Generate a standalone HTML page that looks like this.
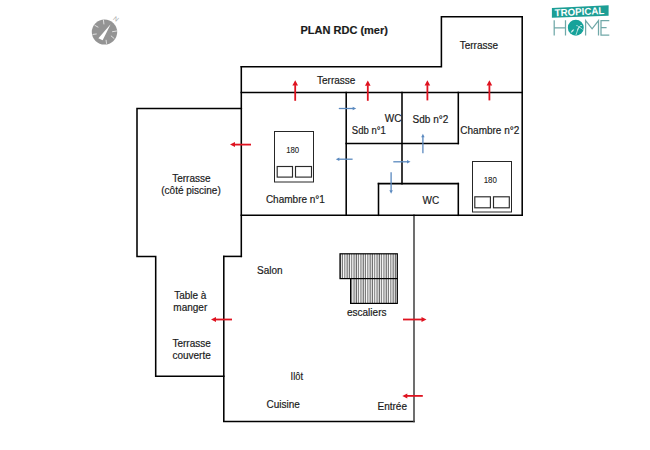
<!DOCTYPE html>
<html><head><meta charset="utf-8">
<style>
html,body{margin:0;padding:0;background:#fff;width:650px;height:450px;overflow:hidden}
svg{display:block}
text{font-family:"Liberation Sans",sans-serif;font-size:10px;fill:#1a1a1a;stroke:#1a1a1a;stroke-width:0.18px}
</style></head><body>
<svg width="650" height="450" viewBox="0 0 650 450">
<defs>
<pattern id="st" x="340" y="0" width="2.3" height="10" patternUnits="userSpaceOnUse">
<rect x="0" y="0" width="2.3" height="10" fill="#bdbdbd"/>
<rect x="0" y="0" width="0.7" height="10" fill="#505050"/>
<rect x="0.7" y="0" width="0.8" height="10" fill="#fff"/>
</pattern>
</defs>
<!-- walls -->
<g fill="none" stroke="#000" stroke-width="1.55" stroke-linecap="square">
<path d="M241.3 66.8 H441.4 V16.8 H522.2 V215.3"/>
<path d="M241.3 66.8 V256.4"/>
<path d="M241.3 92.5 H522.2"/>
<path d="M241.3 108.5 H137 V256.4 H155.7 V376.3 H223.8 V421.4 H414"/>
<path d="M414 421.4 V215.3" stroke="#454545"/>
<path d="M223.8 256.4 H241.3"/>
<path d="M223.8 256.4 V376.3"/>
<path d="M241.3 215.3 H522.2"/>
<path d="M346.2 92.5 V215.3"/>
<path d="M346.2 143.5 H458.3"/>
<path d="M402 92.5 V183.6"/>
<path d="M458.3 92.5 V143.5"/>
<path d="M458.3 183.6 V215.3"/>
<path d="M378.5 183.6 H458.3"/>
<path d="M378.5 183.6 V215.3"/>
</g>
<!-- beds -->
<g fill="none" stroke="#262626" stroke-width="1">
<rect x="274.5" y="131.5" width="39" height="50.5"/>
<rect x="472.5" y="161.5" width="39" height="50.5"/>
</g>
<g fill="none" stroke="#2a2a2a" stroke-width="1.15">
<rect x="277.2" y="166.5" width="15.3" height="10.6"/>
<rect x="295.5" y="166.5" width="16" height="10.6"/>
<rect x="474.8" y="196.8" width="15.6" height="11"/>
<rect x="493.5" y="196.8" width="15.8" height="11"/>
</g>
<!-- stairs -->
<rect x="340" y="253.8" width="57.3" height="24.8" fill="url(#st)" stroke="#000" stroke-width="1.2"/>
<rect x="350.6" y="278.6" width="46.7" height="24.8" fill="url(#st)" stroke="#000" stroke-width="1.2"/>
<!-- red arrows -->
<g stroke="#df1320" stroke-width="1.8" fill="#df1320">
<line x1="295.2" y1="100.8" x2="295.2" y2="85.1"/><path d="M295.2 80.3 L292.40 85.6 L298.00 85.6Z" stroke="none"/>
<line x1="367.8" y1="100.8" x2="367.8" y2="85.3"/><path d="M367.8 80.5 L365.00 85.8 L370.60 85.8Z" stroke="none"/>
<line x1="427.4" y1="100.4" x2="427.4" y2="85.1"/><path d="M427.4 80.3 L424.60 85.6 L430.20 85.6Z" stroke="none"/>
<line x1="489.4" y1="100.4" x2="489.4" y2="85.1"/><path d="M489.4 80.3 L486.60 85.6 L492.20 85.6Z" stroke="none"/>
<line x1="251" y1="144.6" x2="234.5" y2="144.6"/><path d="M230 144.6 L235 142.10 L235 147.10Z" stroke="none"/>
<line x1="232" y1="319.5" x2="215.5" y2="319.5"/><path d="M211 319.5 L216 317.00 L216 322.00Z" stroke="none"/>
<line x1="403" y1="319.5" x2="422.0" y2="319.5"/><path d="M426.5 319.5 L421.5 317.00 L421.5 322.00Z" stroke="none"/>
<line x1="422.8" y1="395.9" x2="406.8" y2="395.9"/><path d="M402.3 395.9 L407.3 393.40 L407.3 398.40Z" stroke="none"/>
</g>
<!-- blue arrows -->
<g stroke="#5a89bf" stroke-width="1.3" fill="#5a89bf">
<line x1="338.8" y1="108.5" x2="353.2" y2="108.5"/><path d="M356.2 108.5 L352.7 106.80 L352.7 110.20Z" stroke="none"/>
<line x1="352.6" y1="159.2" x2="338.8" y2="159.2"/><path d="M335.8 159.2 L339.3 157.50 L339.3 160.90Z" stroke="none"/>
<line x1="393.3" y1="161.8" x2="407.5" y2="161.8"/><path d="M410.5 161.8 L407.0 160.10 L407.0 163.50Z" stroke="none"/>
<line x1="391.1" y1="172.2" x2="391.1" y2="190.7"/><path d="M391.1 193.7 L389.40 190.2 L392.80 190.2Z" stroke="none"/>
<line x1="422.9" y1="153.3" x2="422.9" y2="136.7"/><path d="M422.9 133.7 L421.20 137.2 L424.60 137.2Z" stroke="none"/>
</g>
<!-- compass -->
<g>
<ellipse cx="104.5" cy="32.1" rx="12.7" ry="12.5" fill="#949494"/>
<g stroke="#f4f4f4" stroke-width="1" stroke-linecap="round" opacity="0.8">
<line x1="103.5" y1="20.3" x2="103.9" y2="24"/>
<line x1="94.9" y1="25.4" x2="98" y2="27.1"/>
<line x1="93" y1="34.4" x2="96.3" y2="34"/>
<line x1="112.5" y1="31.7" x2="116.6" y2="31"/>
<line x1="111.2" y1="36" x2="114" y2="38.4"/>
<line x1="106.1" y1="40.2" x2="106.5" y2="43.4"/>
</g>
<path d="M98.4 38.2 L102.6 40.3 L110.6 24.2 Z" fill="#fff"/>
<text x="0" y="0" transform="translate(112.6,19.6) rotate(30) skewX(-10)" style="font-size:6.5px;fill:#a8a8a8;stroke:none">N</text>
</g>
<!-- logo -->
<g>
<path d="M551.9 7.9 L608.6 5.3 L608.6 15.7 L551.9 17.8 Z" fill="#1d9e95"/>
<text x="0" y="0" transform="translate(554.8,16.2) rotate(-2.5)" textLength="49.6" lengthAdjust="spacingAndGlyphs" style="font-weight:bold;font-size:10px;fill:#fff;stroke:none">TROPICAL</text>
<g stroke="#70a8a8" stroke-width="1.25" fill="none">
<path d="M554.2 20.2 V35.5 M565.5 20.2 V35.5 M554.2 27.9 H565.5"/>
<path d="M585.6 35.5 V20.6 L592.1 28.8 L598.5 20.6 V35.5"/>
<path d="M609.3 20.6 H601 V35.2 H609.3 M601 27.7 H606.6"/>
</g>
<circle cx="575.8" cy="27.7" r="7.95" fill="#16a29a"/>
<g stroke="#fff" stroke-width="0.75" fill="none" opacity="0.85">
<path d="M575.8 35.3 Q577.2 31 579 27.2"/>
<path d="M579 27.2 Q577.5 25 576.3 25.6 M579 27.2 Q580.5 24.6 582 25.5 M579 27.2 Q581.5 27.8 582.5 29.4 M579 27.2 Q577.6 28.6 577.3 30.4"/>
<path d="M571 32.5 Q572 29.5 573.8 29.6 Q573.6 31.8 571 32.5Z" fill="#fff" stroke-width="0.4"/>
</g>
</g>
<!-- texts -->
<text x="300.5" y="33.9" style="font-weight:bold;font-size:11px">PLAN RDC (mer)</text>
<text x="459.7" y="49.2">Terrasse</text>
<text x="317" y="83.5">Terrasse</text>
<text x="351.8" y="134.1" textLength="34" lengthAdjust="spacingAndGlyphs">Sdb n°1</text>
<text x="384.8" y="122.2">WC</text>
<text x="412.6" y="123.1">Sdb n°2</text>
<text x="460.3" y="133.9">Chambre n°2</text>
<text x="286.2" y="152.6" textLength="13" lengthAdjust="spacingAndGlyphs" style="font-size:9.2px;stroke-width:0.1px">180</text>
<text x="483.7" y="183.4" textLength="13.2" lengthAdjust="spacingAndGlyphs" style="font-size:9.2px;stroke-width:0.1px">180</text>
<text x="265.9" y="203.1">Chambre n°1</text>
<text x="422.5" y="203.5">WC</text>
<text x="191.4" y="182" text-anchor="middle">Terrasse</text>
<text x="191" y="194.4" text-anchor="middle">(côté piscine)</text>
<text x="257" y="273.5">Salon</text>
<text x="347" y="315.7">escaliers</text>
<text x="190.3" y="299.2" text-anchor="middle">Table à</text>
<text x="190.3" y="311" text-anchor="middle">manger</text>
<text x="191.6" y="347" text-anchor="middle">Terrasse</text>
<text x="191.6" y="358.6" text-anchor="middle">couverte</text>
<text x="290.6" y="380" textLength="12.4" lengthAdjust="spacingAndGlyphs">Ilôt</text>
<text x="266.5" y="407.5">Cuisine</text>
<text x="377.5" y="410">Entrée</text>
</svg>
</body></html>
